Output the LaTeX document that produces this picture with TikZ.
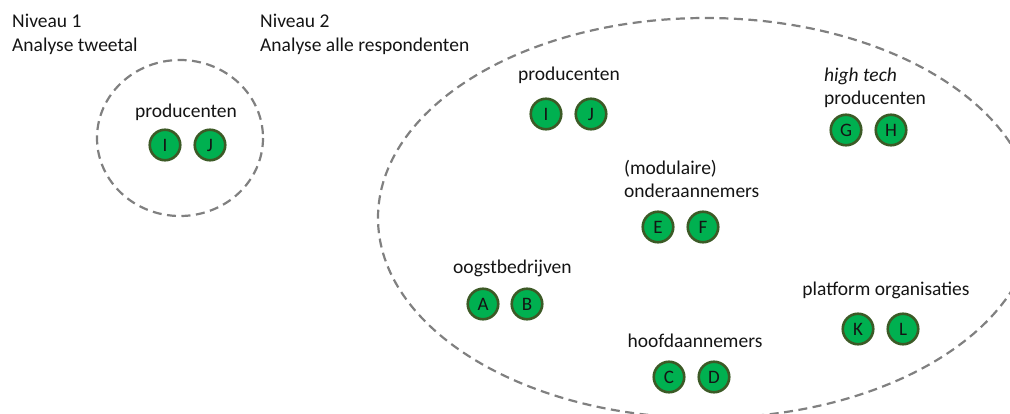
\documentclass[tikz,border=0pt]{standalone}
\usepackage{fontspec}
\setmainfont{Carlito}
\definecolor{discfill}{HTML}{00B050}
\definecolor{discedge}{RGB}{60,90,38}
\definecolor{ringgray}{RGB}{128,128,128}
\definecolor{inktext}{RGB}{20,20,20}
\begin{document}
\begin{tikzpicture}[x=1pt,y=-1pt,
  ring/.style={draw=ringgray,line width=2.2pt,dash pattern=on 9pt off 5.5pt},
  disc/.style={circle,draw=discedge,fill=discfill,line width=2.6pt,
    minimum size=30.5pt,inner sep=0pt,text=inktext,font=\fontsize{19}{19}\selectfont},
  lbl/.style={inner sep=0pt,text=inktext,font=\fontsize{19.5}{23}\selectfont}]
\useasboundingbox (0,0) rectangle (1010,414);

% headings
\node[lbl,anchor=base west] (h1a) at (12,28) {Niveau 1};
\node[lbl,anchor=base west] (h1b) at (12,52) {Analyse tweetal};
\node[lbl,anchor=base west] (h2a) at (260,28) {Niveau 2};
\node[lbl,anchor=base west] (h2b) at (260,52) {Analyse alle respondenten};

% level 1: the pair
\draw[ring] (180,138) ellipse [x radius=83, y radius=78];
\node[lbl,anchor=base] (p1) at (186,118) {producenten};
\node[disc] (i1) at (165,145) {I};
\node[disc] (j1) at (210,145) {J};

% level 2: all respondents
\begin{scope}
  \clip (0,0) rectangle (1010,414);
  \draw[ring] (706,218) ellipse [x radius=328, y radius=200];
\end{scope}

\node[lbl,anchor=base] (p2) at (569,81) {producenten};
\node[disc] (i2) at (546,114) {I};
\node[disc] (j2) at (591,114) {J};

\node[lbl,anchor=base west] (ht) at (824,82) {\itshape high tech};
\node[lbl,anchor=base west] (htp) at (824,105) {producenten};
\node[disc] (g) at (846,130) {G};
\node[disc] (h) at (891,130) {H};

\node[lbl,anchor=base west] (mo) at (624,175) {(modulaire)};
\node[lbl,anchor=base west] (oa) at (624,198) {onderaannemers};
\node[disc] (e) at (658,227) {E};
\node[disc] (f) at (703,227) {F};

\node[lbl,anchor=base west] (ob) at (453,273) {oogstbedrijven};
\node[disc] (a) at (483,304) {A};
\node[disc] (b) at (527,304) {B};

\node[lbl,anchor=base] (ha) at (695,347) {hoofdaannemers};
\node[disc] (c) at (669,377) {C};
\node[disc] (d) at (714,377) {D};

\node[lbl,anchor=base] (po) at (886,296) {platform organisaties};
\node[disc] (k) at (858,329) {K};
\node[disc] (l) at (903,329) {L};
\end{tikzpicture}
\end{document}
